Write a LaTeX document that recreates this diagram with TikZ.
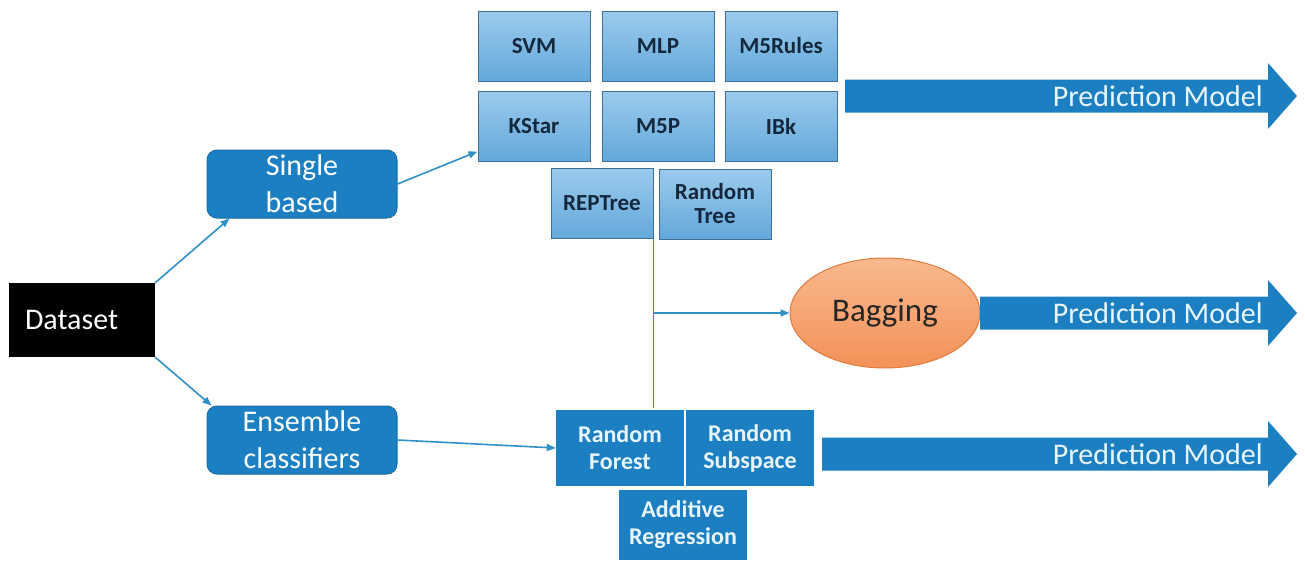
\documentclass[tikz,border=0pt]{standalone}
\usepackage{fontspec}
\setmainfont{Carlito}
\usetikzlibrary{arrows.meta,shapes.geometric}
\definecolor{boxblue}{HTML}{1B7FC2}
\definecolor{edgeblue}{HTML}{166EA8}
\definecolor{paleblue}{HTML}{9BCBEC}
\definecolor{midblue}{HTML}{64A8DB}
\definecolor{gridedge}{HTML}{3F6F95}
\definecolor{linkblue}{HTML}{3090C8}
\definecolor{navytext}{HTML}{13283D}
\definecolor{paleorange}{HTML}{F9B98E}
\definecolor{deeporange}{HTML}{F39158}
\definecolor{orangeedge}{HTML}{E27B3E}
\definecolor{softwhite}{HTML}{E8F5FF}
\tikzset{
  big/.style={font=\fontsize{30}{37}\selectfont},
  groupbox/.style={big, draw=edgeblue, line width=1pt, fill=boxblue, rounded corners=10pt,
    text=white, minimum width=190pt, minimum height=68pt, align=center, inner sep=0pt},
  algo/.style={draw=gridedge, line width=1pt, top color=paleblue, bottom color=midblue,
    text=navytext, font=\bfseries\fontsize{23}{24}\selectfont,
    minimum width=112pt, minimum height=70pt, align=center, inner sep=0pt},
  ens/.style={fill=boxblue, text=softwhite, font=\bfseries\fontsize{24}{27}\selectfont,
    minimum width=128pt, minimum height=76pt, align=center, inner sep=0pt},
  link/.style={draw=linkblue, line width=1.6pt, -{Triangle[length=9pt,width=7pt]}},
}
\begin{document}
\begin{tikzpicture}[x=1pt,y=-1pt]
\useasboundingbox (0,0) rectangle (1305,562);
% input and the two groups
\node[fill=black, text=white, big, minimum height=74pt, text width=114pt,
  inner xsep=16pt, inner ysep=0pt, align=left] (dataset) at (82,320) {Dataset};
\node[groupbox] (single) at (302,184) {Single\\based};
\node[groupbox] (ensemble) at (302,440) {Ensemble\\classifiers};

% single classifiers
\foreach \name/\txt/\x/\y in {svm/SVM/534/46, mlp/MLP/658/46, m5rules/M5Rules/781/46,
  kstar/KStar/534/126, m5p/M5P/658/126, ibk/IBk/781/126}
  \node[algo] (\name) at (\x,\y) {\txt};
\node[algo, minimum width=102pt] (reptree) at (602,203) {REPTree};
\node[algo] (rtree) at (715,204) {Random\\Tree};

% ensemble classifiers
\node[ens] (rforest) at (620,448) {Random\\Forest};
\node[ens] (rsub) at (750,448) {Random\\Subspace};
\node[ens, minimum height=70pt] (addreg) at (683,525) {Additive\\Regression};

\node[ellipse, draw=orangeedge, line width=1pt, top color=paleorange, bottom color=deeporange,
  minimum width=190pt, minimum height=110pt, inner sep=0pt, font=\fontsize{33}{36}\selectfont,
  text=black!85] (bagging) at (885,313) {Bagging};

% outputs
\foreach \i/\xs/\yc in {1/845/96, 2/980/313, 3/822/454} {
  \fill[boxblue] (\xs,\yc-16.5) -- (1268,\yc-16.5) -- (1268,\yc-33) -- (1297,\yc)
    -- (1268,\yc+33) -- (1268,\yc+16.5) -- (\xs,\yc+16.5) -- cycle;
  \node[big, text=softwhite, anchor=east, inner sep=0pt] (pred\i) at (1263,\yc) {Prediction Model};
}

% connectors
\draw[link] (dataset.north east) -- ([xshift=23pt]single.south west);
\draw[link] (dataset.south east) -- ([xshift=5pt]ensemble.north west);
\draw[link] (single.east) -- ([yshift=10pt]kstar.south west);
\draw[link] (ensemble.east) -- (rforest.west);
\coordinate (split) at (reptree.south east |- bagging.west);
\draw[linkblue, line width=1.6pt] (reptree.south east) -- ([yshift=2pt]reptree.south east |- rforest.north);
\draw[link] (split) -- (bagging.west);
\end{tikzpicture}
\end{document}
